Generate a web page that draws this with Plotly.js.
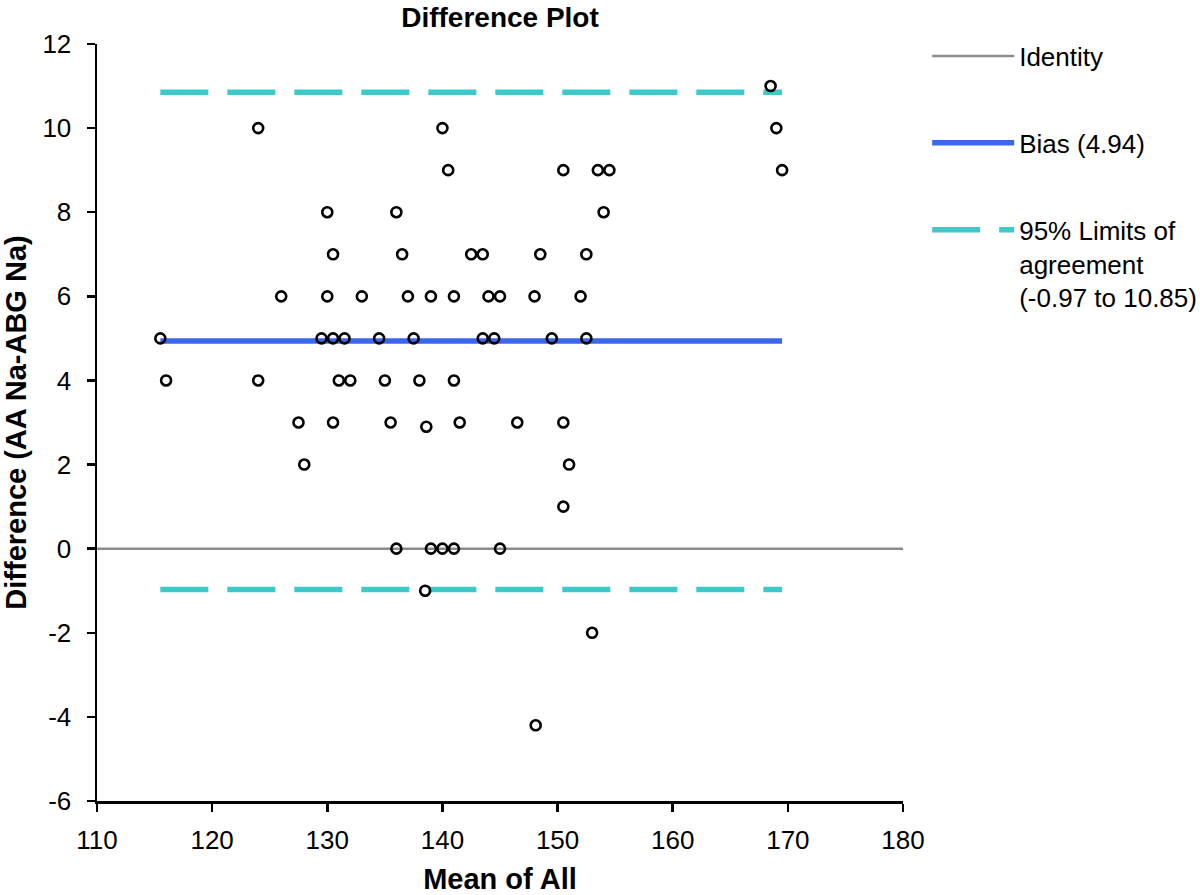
<!DOCTYPE html>
<html>
<head>
<meta charset="utf-8">
<script src="https://cdn.plot.ly/plotly-3.0.1.min.js"></script>
<style>html,body{margin:0;padding:0;background:#fff;}#chart{width:1200px;height:895px;}</style>
</head>
<body>
<div id="chart"></div>
<script>
// Mean of all (x) and difference AA Na - ABG Na (y)
const meanOfAll = [115.5,116,124,124,126,127.5,128,129.5,130,130,130.5,130.5,130.5,131,131.5,132,133,134.5,135,135.5,136,136,136.5,137,137.5,138,138.5,138.6,139,139,140,140,140.5,141,141,141,141.5,142.5,143.5,143.5,144,144.5,145,145,146.5,148,148.1,148.5,149.5,150.5,150.5,150.5,151,152,152.5,152.5,153,153.5,154,154.5,168.5,169,169.5];
const difference = [5,4,10,4,6,3,2,5,8,6,7,5,3,4,5,4,6,5,4,3,8,0,7,6,5,4,-1,2.9,6,0,10,0,9,6,4,0,3,7,7,5,6,5,6,0,3,6,-4.2,7,5,9,3,1,2,6,7,5,-2,9,8,9,11,10,9];
const bias = 4.94;
const lowerLimit = -0.97;
const upperLimit = 10.85;
const identityRange = [110, 180];
const xTickVals = [110, 120, 130, 140, 150, 160, 170, 180];
const yTickVals = [-6, -4, -2, 0, 2, 4, 6, 8, 10, 12];
const yTickText = ["-6", "-4", "-2", "0", "2", "4", "6", "8", "10", "12"];
const legendNames = ["Identity", "Bias (4.94)", "95% Limits of<br>agreement<br>(-0.97 to 10.85)"];

const xMin = Math.min(...meanOfAll), xMax = Math.max(...meanOfAll);
const FONT = '"Liberation Sans", Arial, Helvetica, sans-serif';

const traces = [
  {x: identityRange, y: [0, 0], mode: 'lines', name: legendNames[0], legendgroup: 'a',
   line: {color: '#8c8c8c', width: 2.5}},
  {x: [xMin, xMax], y: [bias, bias], mode: 'lines', name: legendNames[1], legendgroup: 'b',
   line: {color: '#3b66ee', width: 5.5}},
  {x: [xMin, xMax], y: [upperLimit, upperLimit], mode: 'lines', name: legendNames[2], legendgroup: 'c',
   line: {color: '#3cc9c9', width: 5.5, dash: '48px,19px'}},
  {x: [xMin, xMax], y: [lowerLimit, lowerLimit], mode: 'lines', showlegend: false, legendgroup: 'c',
   line: {color: '#3cc9c9', width: 5.5, dash: '48px,19px'}},
  {x: meanOfAll, y: difference, mode: 'markers', showlegend: false,
   marker: {symbol: 'circle-open', size: 10, color: '#000', line: {width: 2.6, color: '#000'}}}
];

const layout = {
  width: 1200, height: 895,
  margin: {l: 97, r: 297, t: 44, b: 94, autoexpand: false},
  paper_bgcolor: '#fff', plot_bgcolor: '#fff',
  font: {family: FONT, color: '#000', size: 26},
  title: {text: '<b>Difference Plot</b>', font: {family: FONT, size: 28, color: '#000'},
          x: 0.5, xref: 'paper', y: 1 - 17/895, yref: 'container', yanchor: 'middle'},
  xaxis: {range: [110, 180], tickvals: xTickVals, showgrid: false, zeroline: false, automargin: false,
          showline: true, linecolor: '#000', linewidth: 2.5, ticks: 'outside', ticklen: 8,
          tickwidth: 2.5, tickcolor: '#000', tickfont: {size: 26}, ticklabelstandoff: 6,
          title: {text: '<b>Mean of All</b>', font: {size: 29}, standoff: 16}},
  yaxis: {range: [-6, 12], tickvals: yTickVals, ticktext: yTickText, showgrid: false, zeroline: false, automargin: false,
          showline: true, linecolor: '#000', linewidth: 2.5, ticks: 'outside', ticklen: 8,
          tickwidth: 2.5, tickcolor: '#000', tickfont: {size: 26}, ticklabelstandoff: 10,
          title: {text: '<b>Difference (AA Na-ABG Na)</b>', font: {size: 29}, standoff: 20}},
  showlegend: true,
  legend: {x: 1.03, xanchor: 'left', y: 1.015, yanchor: 'top', font: {size: 26},
           traceorder: 'grouped', tracegroupgap: 50, itemwidth: 82, valign: 'top',
           bgcolor: 'rgba(0,0,0,0)'}
};

Plotly.newPlot('chart', traces, layout, {displayModeBar: false, staticPlot: true});
</script>
</body>
</html>
